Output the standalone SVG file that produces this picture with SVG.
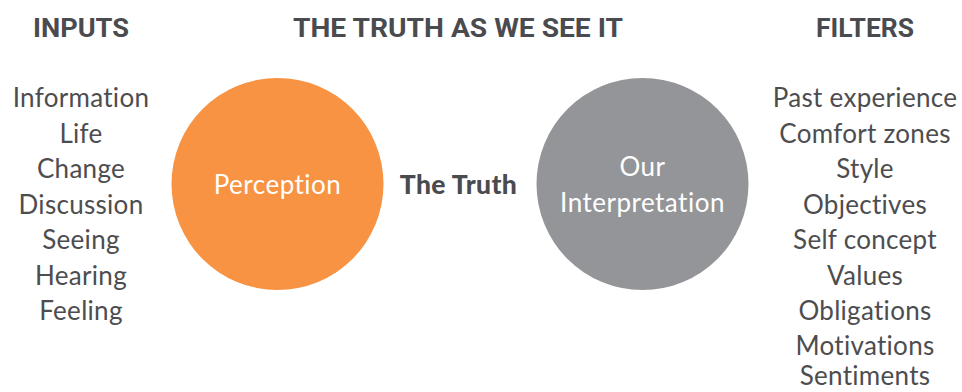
<svg xmlns="http://www.w3.org/2000/svg" width="962" height="392" viewBox="0 0 962 392">
  <style>
    .head { font-family: "Roboto", "Liberation Sans", sans-serif; font-weight: 700; font-size: 25px; fill: #4a4b4f; text-anchor: middle; }
    .item { font-family: "Lato", "Noto Sans", sans-serif; font-size: 26px; letter-spacing: 0.3px; fill: #4d4d4f; text-anchor: middle; }
    .inner { font-family: "Lato", "Noto Sans", sans-serif; font-size: 26px; letter-spacing: 0.5px; fill: #ffffff; text-anchor: middle; }
    .truth { font-family: "Lato", "Noto Sans", sans-serif; font-weight: 900; font-size: 26.5px; letter-spacing: 0.4px; fill: #4a4b4f; text-anchor: middle; }
  </style>
  <rect width="962" height="392" fill="#ffffff"/>

  <!-- column headings -->
  <g id="headings">
    <text class="head" x="81" y="37" textLength="96" lengthAdjust="spacingAndGlyphs">INPUTS</text>
    <text class="head" x="458" y="37" textLength="330" lengthAdjust="spacingAndGlyphs">THE TRUTH AS WE SEE IT</text>
    <text class="head" x="865" y="37" textLength="98" lengthAdjust="spacingAndGlyphs">FILTERS</text>
  </g>

  <!-- inputs list -->
  <g id="inputs">
    <text class="item" x="81" y="107">Information</text>
    <text class="item" x="81" y="142.5">Life</text>
    <text class="item" x="81" y="178">Change</text>
    <text class="item" x="81" y="213.5">Discussion</text>
    <text class="item" x="81" y="249">Seeing</text>
    <text class="item" x="81" y="284.5">Hearing</text>
    <text class="item" x="81" y="320">Feeling</text>
  </g>

  <!-- perception circle -->
  <g id="perception">
    <circle cx="277.5" cy="184" r="106" fill="#f79342"/>
    <text class="inner" x="277.5" y="194">Perception</text>
  </g>

  <!-- central label -->
  <g id="truth">
    <text class="truth" x="458.5" y="194">The Truth</text>
  </g>

  <!-- interpretation circle -->
  <g id="interpretation">
    <circle cx="642.5" cy="184" r="106" fill="#939598"/>
    <text class="inner" x="642.5" y="176">Our</text>
    <text class="inner" x="642.5" y="212">Interpretation</text>
  </g>

  <!-- filters list -->
  <g id="filters">
    <text class="item" x="865" y="107">Past experience</text>
    <text class="item" x="865" y="142.5">Comfort zones</text>
    <text class="item" x="865" y="178">Style</text>
    <text class="item" x="865" y="213.5">Objectives</text>
    <text class="item" x="865" y="249">Self concept</text>
    <text class="item" x="865" y="284.5">Values</text>
    <text class="item" x="865" y="320">Obligations</text>
    <text class="item" x="865" y="354.5">Motivations</text>
    <text class="item" x="865" y="385">Sentiments</text>
  </g>

  <!-- no connectors are drawn between the nodes -->
  <g id="connectors"></g>
</svg>
